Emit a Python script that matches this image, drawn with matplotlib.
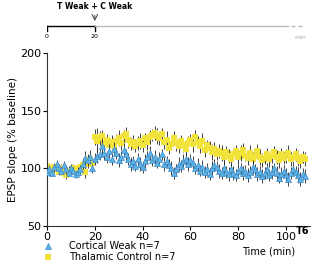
import numpy as np
import matplotlib
matplotlib.use("Agg")
import matplotlib.pyplot as plt

#---------------------------------------------------Data---------------------------------------------------#
time_min = list(range(0, 109))

cortical_weak = [97, 99, 96, 101, 104, 100, 98, 103, 99, 96, 100, 98, 95, 97, 99, 104, 109, 107, 110, 100,
                 108, 111, 112, 119, 113, 110, 115, 108, 117, 113, 107, 110, 116, 112, 108, 104, 106, 102, 108, 104,
                 101, 106, 110, 113, 107, 110, 105, 108, 112, 104, 106,
                 103, 100, 96, 99, 104, 102, 106, 108, 104, 107,
                 105, 100, 103, 98, 101, 97, 99, 95, 100, 103,
                 101, 98, 96, 100, 97, 95, 99, 96, 94, 98,
                 100, 96, 98, 94, 97, 101, 99, 95, 97, 93,
                 96, 99, 94, 97, 100, 96, 92, 95, 98, 94,
                 91, 96, 99, 97, 94, 91, 95, 93]
cortical_err = [3, 4, 3, 4, 3, 4, 3, 3, 4, 3, 4, 3, 3, 4, 4, 5, 6, 5, 6, 4,
                5, 6, 5, 7, 6, 5, 6, 5, 6, 5, 6, 5, 6, 5, 5, 6, 5, 4, 5, 6,
                5, 6, 5, 6, 5, 6, 5, 6, 5, 6, 5,
                5, 6, 5, 5, 6, 5, 6, 5, 6, 5,
                6, 5, 6, 5, 6, 5, 6, 5, 6, 5,
                5, 6, 5, 6, 5, 6, 5, 6, 5, 6,
                5, 6, 5, 6, 5, 6, 5, 6, 5, 6,
                5, 6, 5, 6, 5, 6, 5, 6, 5, 6,
                6, 5, 6, 5, 7, 6, 5, 6]

thalamic_ctrl = [102, 100, 98, 101, 99, 97, 100, 96, 94, 98, 97, 100, 99, 98, 101, 103, 97, 104, 108, 105,
                 127, 124, 126, 128, 122, 125, 120, 123, 119, 124, 126, 122, 128, 130, 125, 121, 123, 119, 122, 124,
                 120, 126, 123, 127, 129, 131, 128, 126, 130, 123, 125,
                 118, 121, 126, 122, 119, 124, 120, 117, 122, 125,
                 121, 127, 123, 119, 124, 116, 120, 118, 114, 117,
                 112, 115, 113, 110, 114, 111, 108, 112, 115, 110,
                 113, 116, 111, 109, 113, 108, 111, 115, 110, 107,
                 109, 112, 108, 111, 114, 110, 107, 112, 109, 111,
                 113, 108, 110, 112, 109, 106, 110, 108]
thalamic_err = [3, 4, 3, 3, 4, 3, 4, 3, 3, 4, 3, 4, 3, 3, 4, 4, 5, 4, 5, 4,
                7, 11, 6, 5, 6, 5, 7, 6, 5, 6, 7, 6, 5, 6, 7, 5, 6, 5, 6, 7,
                6, 5, 7, 6, 5, 6, 7, 6, 5, 6, 7,
                6, 5, 6, 7, 6, 5, 6, 7, 6, 5,
                7, 6, 5, 6, 7, 6, 5, 6, 7, 6,
                5, 6, 7, 6, 5, 6, 7, 6, 5, 6,
                7, 6, 5, 6, 7, 6, 5, 6, 7, 6,
                5, 6, 7, 6, 5, 6, 7, 6, 5, 6,
                7, 6, 5, 6, 7, 6, 5, 6]

#---------------------------------------------------Figure---------------------------------------------------#
fig = plt.figure(figsize=(3.15, 2.65), dpi=100)
ax = fig.add_axes([47/315, 1 - 226/265, 263/315, 173/265])

yellow = "#f2e33c"
blue = "#5db3e6"

ax.errorbar(time_min, thalamic_ctrl, yerr=thalamic_err, fmt="none", ecolor="#222222", elinewidth=0.6, zorder=1)
ax.plot(time_min, thalamic_ctrl, "s", color=yellow, markersize=4.5, markeredgewidth=0, zorder=2,
        label="Thalamic Control n=7")
ax.errorbar(time_min, cortical_weak, yerr=cortical_err, fmt="none", ecolor="#222222", elinewidth=0.6, zorder=3)
ax.plot(time_min, cortical_weak, "^", color=blue, markersize=4.5, markeredgecolor="#3f8cc9",
        markeredgewidth=0.5, zorder=4, label="Cortical Weak n=7")

ax.set_xlim(0, 110)
ax.set_ylim(50, 200)
ax.set_xticks([0, 20, 40, 60, 80, 100])
ax.set_yticks([50, 100, 150, 200])
ax.tick_params(labelsize=8, length=3, width=0.8, pad=1)
for s in ["top", "right"]:
    ax.spines[s].set_visible(False)
for s in ["left", "bottom"]:
    ax.spines[s].set_linewidth(0.8)
    ax.spines[s].set_color("#333333")
ax.set_ylabel("EPSP slope (% baseline)", fontsize=7.5, labelpad=2)
fig.text(303/315, 1 - 231/265, "T6", fontsize=7, fontweight="bold", ha="center", va="center")
fig.text(269/315, 1 - 251/265, "Time (min)", fontsize=7, ha="center", va="center")

handles, labels = ax.get_legend_handles_labels()
ax.legend(handles[::-1], labels[::-1], loc="upper left", bbox_to_anchor=(-0.035, -0.065), frameon=False,
          fontsize=7, handletextpad=1.6, labelspacing=0.1, borderaxespad=0, handlelength=1.2)

#---------------------------------------------------Timeline---------------------------------------------------#
tl = fig.add_axes([47/315, 1 - 45/265, 263/315, 45/265])
tl.set_xlim(0, 110)
tl.set_ylim(0, 1)
tl.axis("off")
tl.plot([0, 20], [0.42, 0.42], color="black", lw=1)
tl.plot([0, 0], [0.42, 0.31], color="black", lw=1)
tl.plot([20, 20], [0.42, 0.31], color="black", lw=1)
tl.plot([20, 101], [0.42, 0.42], color="#bbbbbb", lw=1)
tl.plot([102, 108], [0.42, 0.42], color="#bbbbbb", lw=1, ls=(0, (3, 2)))
tl.text(0, 0.19, "0", fontsize=4.5, ha="center", va="center")
tl.text(20, 0.19, "20", fontsize=4.5, ha="center", va="center")
tl.text(106, 0.17, "min", fontsize=4.5, color="#aaaaaa", ha="center", va="center")
tl.text(20, 0.85, "T Weak + C Weak", fontsize=5.5, fontweight="bold", ha="center", va="center")
tl.annotate("", xy=(20, 0.47), xytext=(20, 0.72),
            arrowprops=dict(arrowstyle="->", color="#444444", lw=0.7))

fig.savefig("out.png", dpi=100)
